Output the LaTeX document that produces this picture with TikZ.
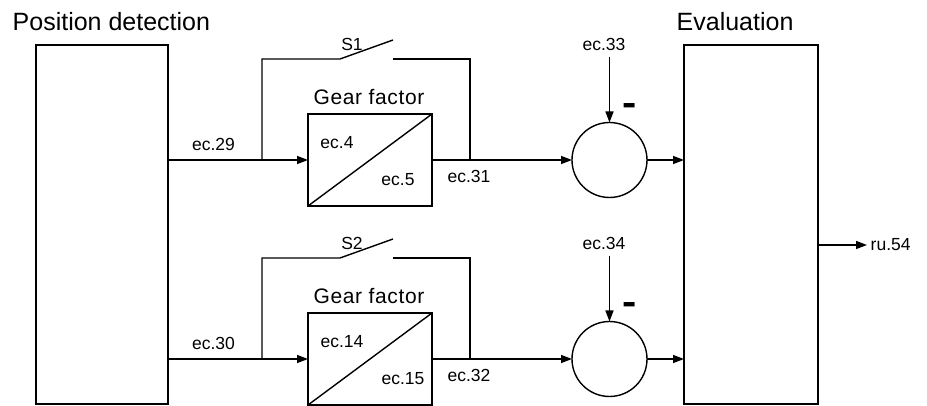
\documentclass[tikz,border=0pt]{standalone}
\usepackage{fontspec}
\setmainfont{Liberation Sans}
\usetikzlibrary{arrows.meta}
\begin{document}
\begin{tikzpicture}[x=1pt,y=-1pt, line width=1.4pt,
  blk/.style={draw, inner sep=0pt, outer sep=0pt, anchor=north west},
  sum/.style={draw, circle, inner sep=0pt, outer sep=0pt, minimum size=75pt},
  lbl/.style={font=\fontsize{17.5}{19}\selectfont, inner sep=0pt},
  gf/.style={font=\fontsize{21}{23}\selectfont\addfontfeatures{LetterSpace=3}, inner sep=0pt},
  ttl/.style={font=\fontsize{25}{28}\selectfont, inner sep=0pt, anchor=west},
  mns/.style={font=\bfseries\fontsize{22}{22}\selectfont, inner sep=0pt},
  arr/.style={-{Triangle[length=11pt,width=8pt]}}]
\useasboundingbox (0,0) rectangle (927,406);

% titles
\node[ttl] (tpos) at (12,22) {Position detection};
\node[ttl] (teval) at (676,22) {Evaluation};

% main blocks
\node[blk, minimum width=132pt, minimum height=359pt] (pos) at (36,45) {};
\node[blk, minimum width=134pt, minimum height=359pt] (eval) at (684,45) {};

% gear boxes
\node[blk, minimum width=124pt, minimum height=92pt] (g1) at (308,114) {};
\node[blk, minimum width=124pt, minimum height=92pt] (g2) at (308,313) {};
\draw (g1.south west) -- (g1.north east);
\draw (g2.south west) -- (g2.north east);
\node[gf] (gf1) at (369,97) {Gear factor};
\node[gf] (gf2) at (369,296) {Gear factor};
\node[lbl] (l4) at (337,143) {ec.4};
\node[lbl] (l5) at (398,180) {ec.5};
\node[lbl] (l14) at (342,342) {ec.14};
\node[lbl] (l15) at (403,379) {ec.15};

% summing circles
\node[sum] (c1) at (609.5,160) {};
\node[sum] (c2) at (609.5,359) {};

% branch points / switch points
\coordinate (b1) at (262,160);
\coordinate (j1) at (470,160);
\coordinate (b2) at (262,359);
\coordinate (j2) at (470,359);
\coordinate (s1a) at (340,59);
\coordinate (s1b) at (393,40);
\coordinate (s1c) at (393,59);
\coordinate (s2a) at (340,258);
\coordinate (s2b) at (393,239);
\coordinate (s2c) at (393,258);

% upper row
\draw (pos.east |- b1) -- (b1);
\draw[arr] (b1) -- (g1.west |- b1);
\draw (b1) |- (s1a) -- (s1b);
\draw (s1c) -| (j1);
\draw (g1.east |- j1) -- (j1);
\draw[arr] (j1) -- (c1.west);
\draw[arr] (c1.east) -- (eval.west |- c1);
\node[lbl] (l29) at (213.5,144) {ec.29};
\node[lbl] (l31) at (469,176) {ec.31};
\node[lbl] (ls1) at (352,44) {S1};
\node[lbl] (l33) at (604,44) {ec.33};
\coordinate (i33) at (609.5,57);
\draw[arr] (i33) -- (c1.north);
\node[mns] (m1) at (630,110.5) {\scalebox{1}[2]{–}};

% lower row
\draw (pos.east |- b2) -- (b2);
\draw[arr] (b2) -- (g2.west |- b2);
\draw (b2) |- (s2a) -- (s2b);
\draw (s2c) -| (j2);
\draw (g2.east |- j2) -- (j2);
\draw[arr] (j2) -- (c2.west);
\draw[arr] (c2.east) -- (eval.west |- c2);
\node[lbl] (l30) at (213.5,343.5) {ec.30};
\node[lbl] (l32) at (469,375) {ec.32};
\node[lbl] (ls2) at (352,243) {S2};
\node[lbl] (l34) at (604,243) {ec.34};
\coordinate (i34) at (609.5,256);
\draw[arr] (i34) -- (c2.north);
\node[mns] (m2) at (630,309.5) {\scalebox{1}[2]{–}};

% output
\coordinate (out) at (867,245);
\draw[arr] (eval.east |- out) -- (out);
\node[lbl, anchor=west] (l54) at (870,245) {ru.54};
\end{tikzpicture}
\end{document}
